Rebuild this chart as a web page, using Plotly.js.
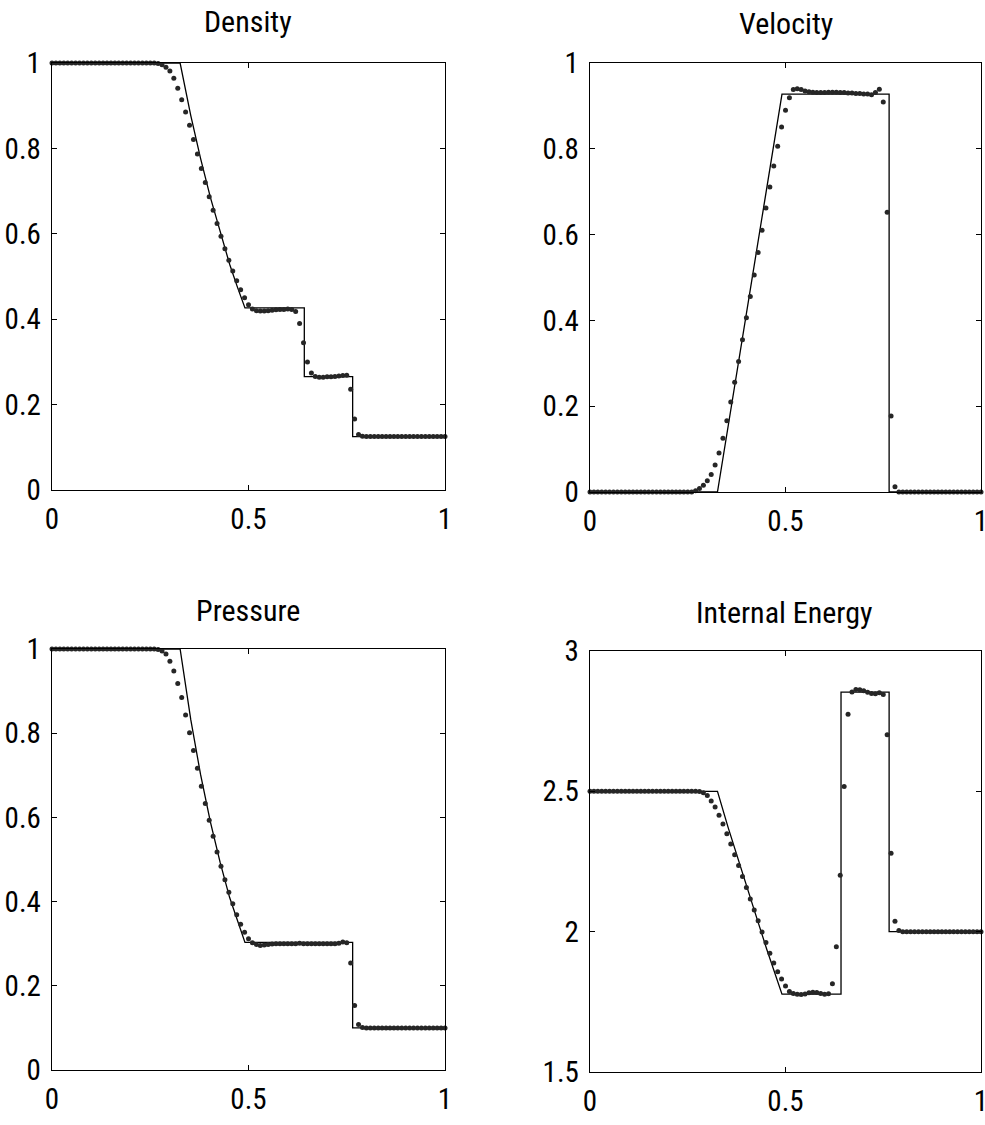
<!DOCTYPE html>
<html>
<head>
<meta charset="utf-8">
<script src="https://cdn.plot.ly/plotly-3.0.1.min.js"></script>
<style>html,body{margin:0;padding:0;background:#fff;}#chart{width:985px;height:1125px;}</style>
</head>
<body>
<div id="chart"></div>
<script>
// grid of the numerical solution
const xGrid = [
0,0.01,0.02,0.03,0.04,0.05,0.06,0.07,0.08,0.09,
0.10,0.11,0.12,0.13,0.14,0.15,0.16,0.17,0.18,0.19,
0.20,0.21,0.22,0.23,0.24,0.25,0.26,0.27,0.28,0.29,
0.30,0.31,0.32,0.33,0.34,0.35,0.36,0.37,0.38,0.39,
0.40,0.41,0.42,0.43,0.44,0.45,0.46,0.47,0.48,0.49,
0.50,0.51,0.52,0.53,0.54,0.55,0.56,0.57,0.58,0.59,
0.60,0.61,0.62,0.63,0.64,0.65,0.66,0.67,0.68,0.69,
0.70,0.71,0.72,0.73,0.74,0.75,0.76,0.77,0.78,0.79,
0.80,0.81,0.82,0.83,0.84,0.85,0.86,0.87,0.88,0.89,
0.90,0.91,0.92,0.93,0.94,0.95,0.96,0.97,0.98,0.99,1.00];

const densityNum = [
1,1,1,1,1,1,1,1,1,1,
1,1,1,1,1,1,1,1,1,1,
1,1,1,1,1,1,1,0.999,0.996,0.990,
0.981,0.964,0.941,0.914,0.885,0.854,0.821,0.787,0.753,0.720,
0.687,0.655,0.624,0.594,0.565,0.538,0.513,0.490,0.469,0.450,
0.434,0.424,0.420,0.419,0.419,0.420,0.421,0.422,0.423,0.423,
0.424,0.423,0.418,0.390,0.345,0.300,0.274,0.266,0.264,0.264,
0.265,0.265,0.266,0.267,0.268,0.269,0.236,0.166,0.130,0.126,
0.125,0.125,0.125,0.125,0.125,0.125,0.125,0.125,0.125,0.125,
0.125,0.125,0.125,0.125,0.125,0.125,0.125,0.125,0.125,0.125,0.125];

const velocityNum = [
0,0,0,0,0,0,0,0,0,0,
0,0,0,0,0,0,0,0,0,0,
0,0,0,0,0,0,0,0.003,0.008,0.016,
0.026,0.041,0.063,0.091,0.125,0.166,0.210,0.256,0.304,0.355,
0.406,0.456,0.506,0.558,0.610,0.662,0.711,0.760,0.806,0.851,
0.890,0.919,0.938,0.940,0.938,0.935,0.933,0.932,0.931,0.931,
0.931,0.932,0.932,0.932,0.931,0.931,0.930,0.930,0.929,0.929,
0.928,0.928,0.926,0.931,0.939,0.909,0.652,0.177,0.012,0,
0,0,0,0,0,0,0,0,0,0,
0,0,0,0,0,0,0,0,0,0,0];

const pressureNum = [
1,1,1,1,1,1,1,1,1,1,
1,1,1,1,1,1,1,1,1,1,
1,1,1,1,1,1,1,0.999,0.995,0.988,
0.971,0.948,0.918,0.885,0.843,0.801,0.759,0.717,0.674,0.633,
0.593,0.555,0.518,0.484,0.452,0.422,0.395,0.369,0.346,0.327,
0.312,0.302,0.298,0.296,0.297,0.298,0.299,0.300,0.300,0.300,
0.300,0.300,0.300,0.301,0.300,0.300,0.300,0.300,0.300,0.300,
0.300,0.300,0.300,0.301,0.304,0.302,0.254,0.153,0.108,0.101,
0.1,0.1,0.1,0.1,0.1,0.1,0.1,0.1,0.1,0.1,
0.1,0.1,0.1,0.1,0.1,0.1,0.1,0.1,0.1,0.1,0.1];

const energyNum = [
2.5,2.5,2.5,2.5,2.5,2.5,2.5,2.5,2.5,2.5,
2.5,2.5,2.5,2.5,2.5,2.5,2.5,2.5,2.5,2.5,
2.5,2.5,2.5,2.5,2.5,2.5,2.5,2.5,2.499,2.495,
2.485,2.466,2.444,2.415,2.384,2.349,2.312,2.274,2.236,2.197,
2.157,2.116,2.077,2.039,1.999,1.961,1.923,1.888,1.857,1.831,
1.806,1.787,1.780,1.777,1.776,1.778,1.782,1.784,1.783,1.780,
1.777,1.779,1.814,1.946,2.201,2.517,2.775,2.854,2.863,2.862,
2.858,2.853,2.849,2.848,2.851,2.845,2.702,2.279,2.037,2.004,
2.0,2.0,2.0,2.0,2.0,2.0,2.0,2.0,2.0,2.0,
2.0,2.0,2.0,2.0,2.0,2.0,2.0,2.0,2.0,2.0,2.0];

// exact solution (solid line)
const xExactRho = [0,0.326,0.353,0.378,0.403,0.428,0.452,0.472,0.491,0.642,0.642,0.765,0.765,1];
const densityExact = [1,1,0.8775,0.7767,0.6854,0.6029,0.5286,0.4745,0.4263,0.4263,0.2656,0.2656,0.125,0.125];
const xExactU = [0,0.326,0.491,0.765,0.765,1];
const velocityExact = [0,0,0.9275,0.9275,0,0];
const xExactP = [0,0.326,0.353,0.378,0.403,0.428,0.452,0.472,0.491,0.765,0.765,1];
const pressureExact = [1,1,0.8328,0.7020,0.5893,0.4925,0.4096,0.3522,0.3031,0.3031,0.1,0.1];
const energyExact = [2.5,2.5,2.3726,2.2596,2.1495,2.0420,1.9373,1.8555,1.7776,1.7776,2.8535,2.8535,2.0,2.0];

const titles = ['Density','Velocity','Pressure','Internal Energy'];
const xTicks = [0,0.5,1];
const yTicksA = [0,0.2,0.4,0.6,0.8,1];
const yTicksE = [1.5,2,2.5,3];

// pick an installed narrow sans font and size it to the reference text widths
function measure(str, fam, px){
  const c = document.createElement('canvas').getContext('2d');
  c.font = px + 'px ' + fam;
  return c.measureText(str).width;
}
function available(fam){
  const s = 'mmmwwwlli0.8Internal';
  return ['monospace','serif'].every(g => Math.abs(measure(s, '"' + fam + '",' + g, 100) - measure(s, g, 100)) > 0.5);
}
const candidates = ['Nimbus Sans Narrow','Liberation Sans Narrow','Arial Narrow','Helvetica Narrow','Roboto Condensed','DejaVu Sans Condensed','Liberation Sans'];
let fam = 'DejaVu Sans Condensed';
for (const c of candidates){ if (available(c)) { fam = c; break; } }
const FONT = '"' + fam + '",sans-serif';
const tickSize = Math.min(31, Math.round(36 / (measure('0.8', FONT, 100) / 100)));
const titleSize = Math.min(31, Math.round(176 / (measure('Internal Energy', FONT, 100) / 100)));

const dot = {color:'#262626', size:5};
const ln = {color:'#000', width:1.3};

function pair(xa, ya, yd, xl, yl){
  return [
    {x:xl, y:yl, xaxis:xa, yaxis:ya, mode:'lines', line:ln, hoverinfo:'skip'},
    {x:xGrid, y:yd, xaxis:xa, yaxis:ya, mode:'markers', marker:dot, cliponaxis:false}
  ];
}

const data = [].concat(
  pair('x','y', densityNum, xExactRho, densityExact),
  pair('x2','y2', velocityNum, xExactU, velocityExact),
  pair('x3','y3', pressureNum, xExactP, pressureExact),
  pair('x4','y4', energyNum, xExactRho, energyExact)
);

function ax(domain, range, ticks, anchor, standoff){
  return {domain:domain, range:range, anchor:anchor, tickvals:ticks, ticks:'inside', ticklen:5, tickwidth:1,
    tickcolor:'#000', showline:true, linecolor:'#000', linewidth:1.3, mirror:'ticks', showgrid:false,
    zeroline:false, ticklabeloverflow:'allow', ticklabelstandoff:standoff,
    tickfont:{family:FONT, size:tickSize, color:'#000'}, fixedrange:true};
}

const W = 985, H = 1125;
const L1=[52/W,445/W], L2=[590/W,981/W];
const T1=[1-490/H,1-63/H], T2=[1-492/H,1-63/H], B1=[1-1070/H,1-649/H], B2=[1-1072/H,1-651/H];

const layout = {
  width:W, height:H, margin:{l:0,r:0,t:0,b:0}, showlegend:false,
  paper_bgcolor:'#fff', plot_bgcolor:'#fff',
  xaxis: ax(L1,[0,1],xTicks,'y',3),
  yaxis: ax(T1,[0,1],yTicksA,'x',4),
  xaxis2: ax(L2,[0,1],xTicks,'y2',3),
  yaxis2: ax(T2,[0,1],yTicksA,'x2',4),
  xaxis3: ax(L1,[0,1],xTicks,'y3',3),
  yaxis3: ax(B1,[0,1],yTicksA,'x3',4),
  xaxis4: ax(L2,[0,1],xTicks,'y4',3),
  yaxis4: ax(B2,[1.5,3],yTicksE,'x4',4),
  annotations: [
    {text:titles[0], x:248/W, y:1-22/H},
    {text:titles[1], x:786/W, y:1-24/H},
    {text:titles[2], x:248/W, y:1-610/H},
    {text:titles[3], x:784/W, y:1-612/H}
  ].map(a => Object.assign(a,{xref:'paper', yref:'paper', showarrow:false, xanchor:'center', yanchor:'middle',
     font:{family:FONT, size:titleSize, color:'#000'}}))
};

Plotly.newPlot('chart', data, layout, {displayModeBar:false, staticPlot:true});
</script>
</body>
</html>
